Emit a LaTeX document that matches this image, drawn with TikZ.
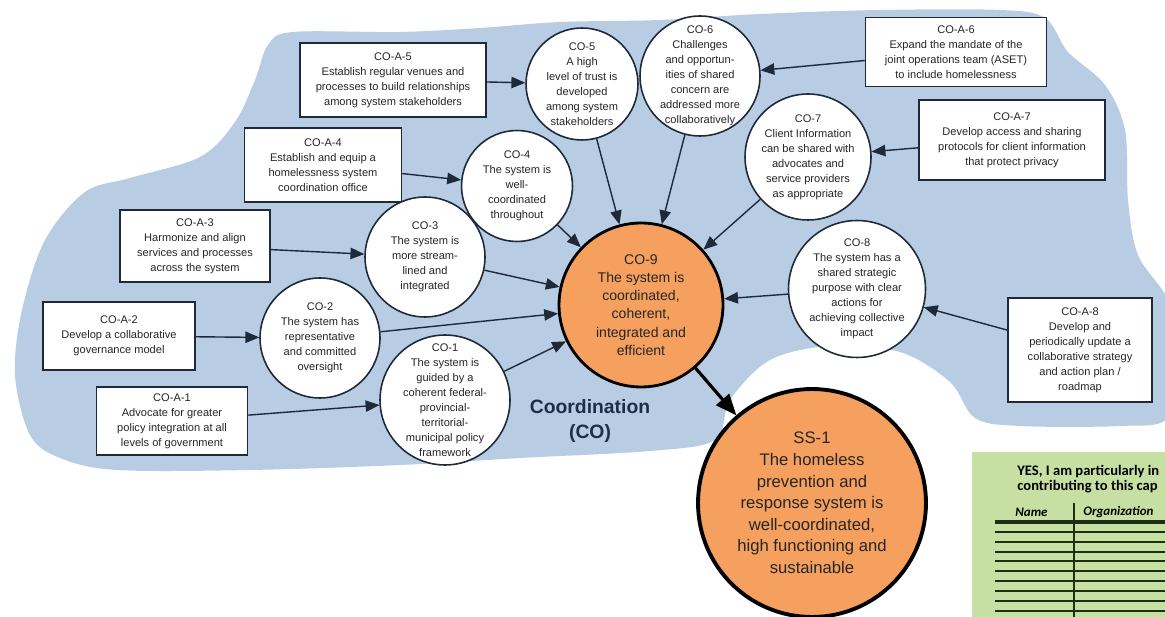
\documentclass[tikz,border=0pt]{standalone}
\usepackage{fontspec}
\setmainfont{Liberation Sans}
\newfontfamily\panelfont{Carlito}
\usetikzlibrary{arrows,shapes}
\definecolor{blobblue}{HTML}{B8CCE4}
\definecolor{outorange}{HTML}{F5A05E}
\definecolor{linenavy}{HTML}{1E2A3A}
\definecolor{labelnavy}{HTML}{1F2D4A}
\definecolor{panelgreen}{HTML}{C6E0A4}
\definecolor{panelline}{HTML}{1E2E14}
\definecolor{textgray}{HTML}{262626}
\tikzstyle{abox}=[draw=linenavy,line width=0.9pt,fill=white,align=center,inner sep=1pt,text=textgray,font=\fontsize{6.3}{8.5}\selectfont]
\tikzstyle{ccirc}=[circle,draw=linenavy,line width=0.9pt,fill=white,inner sep=0pt]
\tikzstyle{ctext}=[align=center,text=textgray,font=\fontsize{6.3}{8.5}\selectfont,inner sep=0pt]
\tikzstyle{ocirc}=[circle,draw=black,fill=outorange,inner sep=0pt]
\tikzstyle{link}=[->,>=triangle 45,draw=linenavy,line width=0.8pt]

\begin{document}
\begin{tikzpicture}[x=0.02cm,y=-0.02cm]
  \useasboundingbox (0,0) rectangle (1165,617);

  % background area
  \fill[blobblue] plot[smooth cycle,tension=0.55] coordinates {
    (293,32) (400,32) (480,28) (560,22) (660,20) (760,14) (880,10)
    (1000,10) (1045,18) (1068,52) (1105,85) (1125,130) (1128,200)
    (1138,255) (1168,300) (1185,360) (1168,418) (1120,426) (1020,426)
    (975,418) (950,382) (900,352) (830,346) (770,360) (730,400)
    (715,440) (650,451) (520,458) (400,465) (250,470) (117,470)
    (60,458) (30,435) (15,375) (22,310) (45,240) (85,192) (130,178)
    (200,157) (235,122) (255,80) (268,45)};

  % actions
  \node[abox,minimum width=3.72cm,minimum height=1.48cm] (coa5) at (393,80)
    {CO-A-5\\Establish regular venues and\\processes to build relationships\\among system stakeholders};
  \node[abox,minimum width=3.14cm,minimum height=1.48cm] (coa4) at (323,165)
    {CO-A-4\\Establish and equip a\\homelessness system\\coordination office};
  \node[abox,minimum width=3.0cm,minimum height=1.44cm] (coa3) at (195,246)
    {CO-A-3\\Harmonize and align\\services and processes\\across the system};
  \node[abox,minimum width=3.04cm,minimum height=1.36cm] (coa2) at (119,336)
    {CO-A-2\\Develop a collaborative\\governance model};
  \node[abox,minimum width=3.02cm,minimum height=1.36cm] (coa1) at (172,421)
    {CO-A-1\\Advocate for greater\\policy integration at all\\levels of government};
  \node[abox,minimum width=3.62cm,minimum height=1.38cm] (coa6) at (956,52)
    {CO-A-6\\Expand the mandate of the\\joint operations team (ASET)\\to include homelessness};
  \node[abox,minimum width=3.72cm,minimum height=1.6cm] (coa7) at (1012,140)
    {CO-A-7\\Develop access and sharing\\protocols for client information\\that protect privacy};
  \node[abox,minimum width=2.88cm,minimum height=2.08cm] (coa8) at (1080,350)
    {CO-A-8\\Develop and\\periodically update a\\collaborative strategy\\and action plan /\\roadmap};

  % outcomes
  \node[ccirc,minimum size=2.24cm,label={[ctext]center:{CO-5\\A high\\level of trust is\\developed\\among system\\stakeholders}}] (co5) at (582,84) {};
  \node[ccirc,minimum size=2.4cm,label={[ctext]center:{CO-6\\Challenges\\and opportun-\\ities of shared\\concern are\\addressed more\\collaboratively}}] (co6) at (700,76) {};
  \node[ccirc,minimum size=2.22cm,label={[ctext]center:{CO-4\\The system is\\well-\\coordinated\\throughout}}] (co4) at (517,186) {};
  \node[ccirc,minimum size=2.4cm,label={[ctext]center:{CO-3\\The system is\\more stream-\\lined and\\integrated}}] (co3) at (425,257) {};
  \node[ccirc,minimum size=2.4cm,label={[ctext]center:{CO-2\\The system has\\representative\\and committed\\oversight}}] (co2) at (320,338) {};
  \node[ccirc,minimum size=2.6cm,label={[ctext]center:{CO-1\\The system is\\guided by a\\coherent federal-\\provincial-\\territorial-\\municipal policy\\framework}}] (co1) at (445,400) {};
  \node[ccirc,minimum size=2.52cm,label={[ctext]center:{CO-7\\Client Information\\can be shared with\\advocates and\\service providers\\as appropriate}}] (co7) at (808,157) {};
  \node[ccirc,minimum size=2.74cm,label={[ctext]center:{CO-8\\The system has a\\shared strategic\\purpose with clear\\actions for\\achieving collective\\impact}}] (co8) at (857,289) {};

  \node[ocirc,line width=1.6pt,minimum size=3.28cm,label={[ctext,font=\fontsize{8}{10.4}\selectfont]center:{CO-9\\The system is\\coordinated,\\coherent,\\integrated and\\efficient}}] (co9) at (641,305) {};
  \node[ocirc,line width=2.2pt,minimum size=4.56cm,label={[ctext,font=\fontsize{9.5}{12.3}\selectfont]center:{SS-1\\The homeless\\prevention and\\response system is\\well-coordinated,\\high functioning and\\sustainable}}] (ss1) at (812,503) {};

  \node[text=labelnavy,align=center,font=\bfseries\fontsize{11}{14}\selectfont] (colabel) at (590,421) {Coordination\\(CO)};

  \draw[link] (coa5) to (co5);
  \draw[link] (coa4) to (co4);
  \draw[link] (coa3) to (co3);
  \draw[link] (coa2) to (co2);
  \draw[link] (coa1) to (co1);
  \draw[link] (coa6) to (co6);
  \draw[link] (coa7) to (co7);
  \draw[link] (coa8) to (co8);

  \draw[link] (co5) to (co9);
  \draw[link] (co6) to (co9);
  \draw[link] (co4) to (co9);
  \draw[link] (co3) to (co9);
  \draw[link] (co2) to (co9);
  \draw[link] (co1) to (co9);
  \draw[link] (co7) to (co9);
  \draw[link] (co8) to (co9);
  \draw[->,>=triangle 45,line width=1.8pt] (co9) to (ss1);

  % sign-up panel
  \fill[panelgreen] (972,452) rectangle (1165,617);
  \node[anchor=west,inner sep=0pt,font=\panelfont\bfseries\fontsize{8.3}{9}\selectfont] (yes1) at (1017,472) {YES, I am particularly in};
  \node[anchor=west,inner sep=0pt,font=\panelfont\bfseries\fontsize{8.3}{9}\selectfont] (yes2) at (1017,487) {contributing to this cap};
  \node[anchor=west,inner sep=0pt,font=\panelfont\bfseries\itshape\fontsize{7.4}{8}\selectfont] (hname) at (1015,512) {Name};
  \node[anchor=west,inner sep=0pt,font=\panelfont\bfseries\itshape\fontsize{7.4}{8}\selectfont] (horg) at (1083,512) {Organization};
  \coordinate (vtop) at (1074,503);
  \coordinate (vbot) at (1074,617);
  \draw[panelline,line width=0.6pt] (vtop) -- (vbot);
  \draw[panelline,line width=1.8pt] (995,522) -- (1165,522);
  \draw[panelline,line width=0.6pt] (995,532) -- (1165,532);
  \draw[panelline,line width=0.6pt] (995,542) -- (1165,542);
  \draw[panelline,line width=0.6pt] (995,552) -- (1165,552);
  \draw[panelline,line width=0.6pt] (995,561) -- (1165,561);
  \draw[panelline,line width=0.6pt] (995,571) -- (1165,571);
  \draw[panelline,line width=0.6pt] (995,581) -- (1165,581);
  \draw[panelline,line width=0.6pt] (995,591) -- (1165,591);
  \draw[panelline,line width=0.6pt] (995,601) -- (1165,601);
  \draw[panelline,line width=0.6pt] (995,611) -- (1165,611);

\end{tikzpicture}
\end{document}
